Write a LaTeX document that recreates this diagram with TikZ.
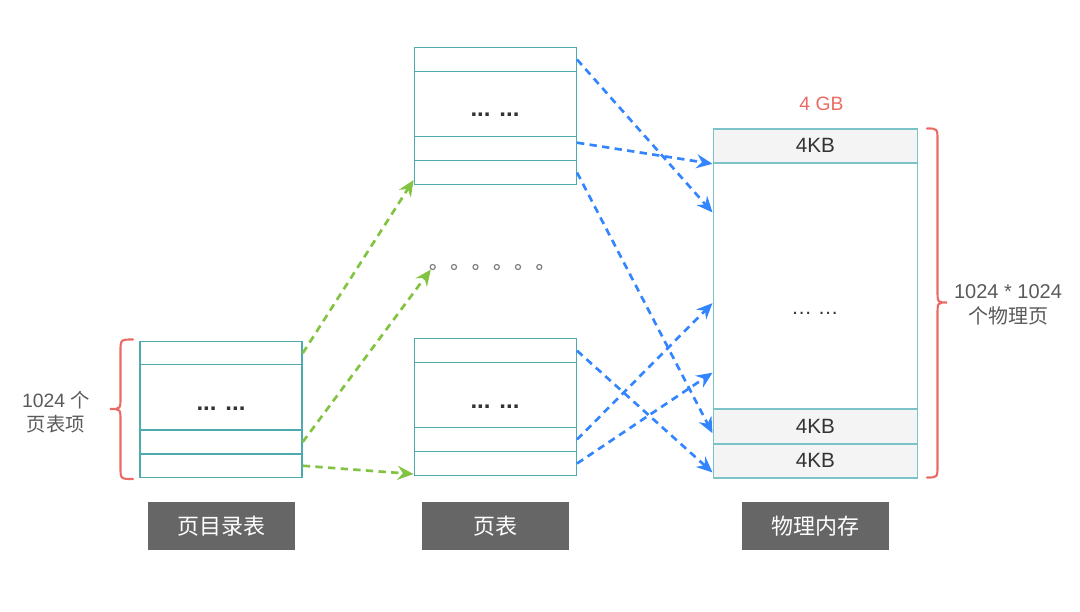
\documentclass[tikz,border=0pt]{standalone}
\usepackage{fontspec}
\setmainfont{Liberation Sans}
\newfontfamily\cjk{Noto Sans CJK SC}
\usetikzlibrary{arrows.meta,fit,calc}
\definecolor{tealc}{HTML}{4FAAAE}
\definecolor{tealm}{HTML}{7CC3C7}
\definecolor{blueA}{HTML}{3385FF}
\definecolor{greenA}{HTML}{82C341}
\definecolor{redA}{HTML}{EA6B66}
\definecolor{labg}{HTML}{666666}
\definecolor{txtg}{HTML}{5A5A5A}
\definecolor{cellg}{HTML}{F4F4F4}
\tikzset{
  cell/.style={draw=tealc, line width=1.1pt, inner sep=0pt},
  mcell/.style={draw=tealm, line width=1.2pt, inner sep=0pt},
  mgray/.style={mcell, fill=cellg},
  ctext/.style={inner sep=0pt, text=black!80, font=\fontsize{15.5}{18}\selectfont},
  bdots/.style={font=\bfseries\fontsize{18}{18}\selectfont, text=black!80, inner sep=0pt},
  lab/.style={fill=labg, inner sep=0pt},
  labt/.style={text=white, inner sep=0pt, font=\cjk\fontsize{16.5}{18}\selectfont},
  barrow/.style={draw=blueA, line width=2pt, dash pattern=on 5.5pt off 4pt, -{Stealth[length=12pt,width=10.5pt,inset=4pt]}},
  garrow/.style={draw=greenA, line width=2pt, dash pattern=on 5.5pt off 4pt, -{Stealth[length=12pt,width=10.5pt,inset=4pt]}},
  ring/.style={circle, draw=black!50, line width=0.9pt, minimum size=3.8pt, inner sep=0pt},
  bracec/.style={draw=redA, line width=1.6pt, line cap=round}
}
\begin{document}
\begin{tikzpicture}[x=0.75pt,y=-0.75pt]
\useasboundingbox (0,0) rectangle (1080,611);
% left table (page directory)
\node[cell, fit={(140,341.7) (302,364.7)}] (L1) {};
\node[cell, fit={(140,364.7) (302,430)}] (L2) {};
\node[cell, fit={(140,430) (302,454)}] (L3) {};
\node[cell, fit={(140,454) (302,477.5)}] (L4) {};
\node[bdots] (Ld) at (221,408.5) {... ...};
% middle top table
\node[cell, fit={(414.3,47.3) (576.3,71.7)}] (T1) {};
\node[cell, fit={(414.3,71.7) (576.3,136.7)}] (T2) {};
\node[cell, fit={(414.3,136.7) (576.3,160.7)}] (T3) {};
\node[cell, fit={(414.3,160.7) (576.3,184.3)}] (T4) {};
\node[bdots] (Td) at (495,115) {... ...};
% middle bottom table
\node[cell, fit={(414.3,338.7) (576.3,362.7)}] (B1) {};
\node[cell, fit={(414.3,362.7) (576.3,427.3)}] (B2) {};
\node[cell, fit={(414.3,427.3) (576.3,451.7)}] (B3) {};
\node[cell, fit={(414.3,451.7) (576.3,475.3)}] (B4) {};
\node[bdots] (Bd) at (495,407) {... ...};
% rings
\foreach \i/\xx in {1/432.7,2/454,3/475.5,4/496.8,5/518,6/539.3}{
  \node[ring] (o\i) at (\xx,267) {};
}
% memory
\node[mgray, fit={(713.3,128.7) (917.3,163)}] (M1) {};
\node[mcell, fit={(713.3,163) (917.3,409)}] (M2) {};
\node[mgray, fit={(713.3,409) (917.3,443.7)}] (M3) {};
\node[mgray, fit={(713.3,443.7) (917.3,477.7)}] (M4) {};
\node[ctext] (M1t) at (M1.center) {4KB};
\node[ctext] (M3t) at (M3.center) {4KB};
\node[ctext] (M4t) at (M4.center) {4KB};
\node[ctext] (Md) at (815,313) {… …};
\node[text=redA, font=\fontsize{14.5}{18}\selectfont, inner sep=0pt] (gb) at (821.5,104) {4 GB};
% braces
\draw[bracec] (133,339.5) .. controls (120.5,339.5) .. (120.5,352) -- (120.5,397) .. controls (120.5,409) .. (110,409) .. controls (120.5,409) .. (120.5,421) -- (120.5,466.5) .. controls (120.5,479) .. (133,479);
\draw[bracec] (927,128.5) .. controls (937.5,128.5) .. (937.5,141) -- (937.5,290) .. controls (937.5,302.5) .. (947,302.5) .. controls (937.5,302.5) .. (937.5,315) -- (937.5,465) .. controls (937.5,477.5) .. (927,477.5);
% side labels
\node[align=center, text=txtg, font=\fontsize{14.5}{18}\selectfont, inner sep=0pt] (ll) at (56,412) {1024 {\cjk 个}\\{\cjk 页表项}};
\node[align=center, text=txtg, font=\fontsize{15}{18.75}\selectfont, inner sep=0pt] (rl) at (1008,305) {1024 * 1024\\{\cjk 个物理页}};
% bottom labels
\node[lab, fit={(148,502) (295,550)}] (lab1) {};
\node[lab, fit={(422,502) (569,550)}] (lab2) {};
\node[lab, fit={(742,502) (889,550)}] (lab3) {};
\node[labt] at (lab1.center) {页目录表};
\node[labt] at (lab2.center) {页表};
\node[labt] at (lab3.center) {物理内存};
% green arrows
\draw[garrow] (L1.east) -- ($(T4.south west)+(0,-5)$);
\draw[garrow] (L3.east) -- (o1);
\draw[garrow] (L4.east) -- ($(B4.south west)+(0,-2)$);
% blue arrows
\draw[barrow] (T1.east) -- ($(M2.north west)!0.203!(M2.south west)$);
\draw[barrow] ($(T3.east)+(0,-6)$) -- (M1.south west);
\draw[barrow] (T4.east) -- ($(M3.north west)!0.69!(M3.south west)$);
\draw[barrow] (B1.east) -- ($(M4.north west)!0.83!(M4.south west)$);
\draw[barrow] (B3.east) -- ($(M2.north west)!0.569!(M2.south west)$);
\draw[barrow] (B4.east) -- ($(M2.north west)!0.85!(M2.south west)$);
\end{tikzpicture}
\end{document}
